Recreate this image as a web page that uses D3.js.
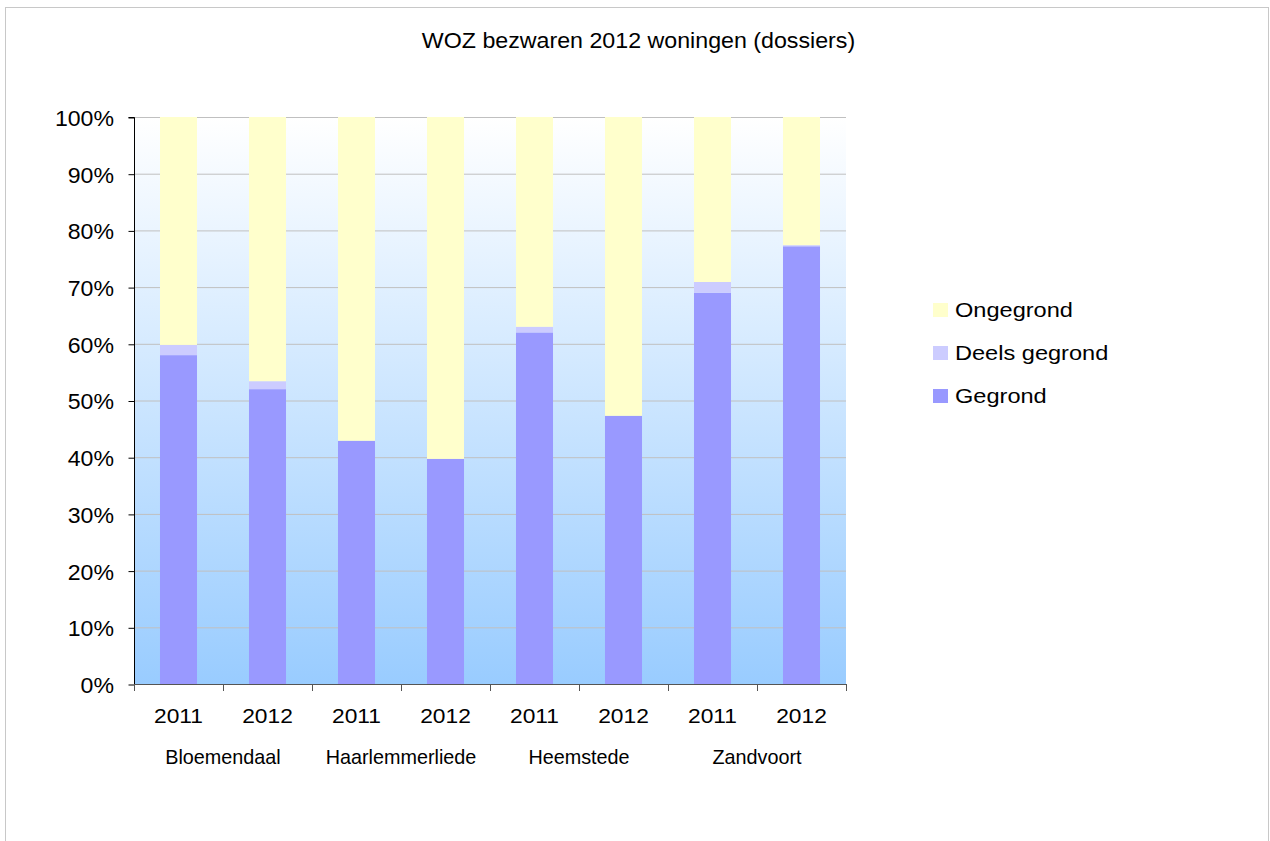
<!DOCTYPE html>
<html>
<head>
<meta charset="utf-8">
<script src="https://cdn.jsdelivr.net/npm/d3@7"></script>
<style>
  html, body { margin: 0; padding: 0; background: #fff; }
  svg { display: block; font-family: "Liberation Sans", Arial, sans-serif; }
</style>
</head>
<body>
<svg id="chart" width="1270" height="841"></svg>
<script>
const title = "WOZ bezwaren 2012 woningen (dossiers)";
const groups = ["Bloemendaal", "Haarlemmerliede", "Heemstede", "Zandvoort"];
const years = ["2011", "2012", "2011", "2012", "2011", "2012", "2011", "2012"];
const gegrond   = [58.0, 52.0, 42.9, 39.7, 62.0, 47.3, 69.0, 77.2];
const deels     = [1.8, 1.4, 0.0, 0.0, 1.0, 0.0, 1.9, 0.2];
const ongegrond = [40.2, 46.6, 57.1, 60.3, 37.0, 52.7, 29.1, 22.6];
const seriesNames = ["Gegrond", "Deels gegrond", "Ongegrond"];
const seriesColors = ["#9999ff", "#ccccff", "#ffffcc"];
const yTicks = [0, 10, 20, 30, 40, 50, 60, 70, 80, 90, 100];

const rows = years.map((yr, i) => ({
  key: i, year: yr, group: groups[Math.floor(i / 2)],
  "Gegrond": gegrond[i], "Deels gegrond": deels[i], "Ongegrond": ongegrond[i]
}));

const svg = d3.select("#chart");
const m = { left: 134, right: 846, top: 117, bottom: 684 };

// helper: text stretched horizontally
function stretchedText(sel, x, y, size, sx, anchor) {
  return sel.append("text")
    .attr("transform", `translate(${x},${y}) scale(${sx},1)`)
    .attr("font-size", size).attr("fill", "#000")
    .attr("text-anchor", anchor || "start");
}

// outer frame
svg.append("rect").attr("x", 5.5).attr("y", 7.5).attr("width", 1263).attr("height", 845)
  .attr("fill", "#fff").attr("stroke", "#c8c8c8").attr("stroke-width", 1);

// background gradient
const defs = svg.append("defs");
const grad = defs.append("linearGradient").attr("id", "bg").attr("x1", 0).attr("y1", 0).attr("x2", 0).attr("y2", 1);
grad.append("stop").attr("offset", "0%").attr("stop-color", "#ffffff");
grad.append("stop").attr("offset", "100%").attr("stop-color", "#99ccff");
svg.append("rect").attr("x", m.left).attr("y", m.top)
  .attr("width", m.right - m.left).attr("height", m.bottom - m.top).attr("fill", "url(#bg)");

const x = d3.scaleBand().domain(rows.map(d => d.key)).range([m.left, m.right])
  .paddingInner(0.584).paddingOuter(0.292);
const y = d3.scaleLinear().domain([0, 100]).range([m.bottom, m.top]);

// gridlines
svg.append("g").selectAll("line").data(yTicks.filter(t => t > 0)).join("line")
  .attr("x1", m.left).attr("x2", m.right)
  .attr("y1", d => y(d) + 0.5).attr("y2", d => y(d) + 0.5)
  .attr("stroke", "#c0c0c0").attr("stroke-width", 1);

// stacked bars
const stack = d3.stack().keys(seriesNames)(rows);
svg.append("g").selectAll("g").data(stack).join("g")
  .attr("fill", (d, i) => seriesColors[i])
  .selectAll("rect").data(d => d).join("rect")
  .attr("x", d => x(d.data.key))
  .attr("width", x.bandwidth())
  .attr("y", d => y(d[1]))
  .attr("height", d => Math.max(0, y(d[0]) - y(d[1])));

// y axis
const yAxis = d3.axisLeft(y).tickValues(yTicks).tickSize(6).tickPadding(0).tickFormat(d => d + "%");
const gy = svg.append("g").attr("transform", `translate(${m.left + 0.5},0)`).call(yAxis);
gy.select(".domain").attr("stroke", "#000").attr("d", `M-6,${m.top + 0.5}H0V${m.bottom + 0.5}`);
gy.selectAll(".tick line").attr("stroke", "#000").attr("transform", "translate(0,0.5)");
gy.selectAll(".tick text")
  .attr("x", 0).attr("dy", "0.36em")
  .attr("transform", "translate(-20.5,0.5) scale(1.05,1)")
  .attr("font-size", 22).attr("fill", "#000")
  .attr("font-family", "'Liberation Sans', Arial, sans-serif");

// x axis baseline and ticks
const step = x.step();
const boundaries = d3.range(rows.length + 1).map(i => m.left + i * step);
svg.append("line").attr("x1", m.left).attr("x2", m.right)
  .attr("y1", m.bottom + 0.5).attr("y2", m.bottom + 0.5).attr("stroke", "#555");
svg.append("g").selectAll("line").data(boundaries).join("line")
  .attr("x1", d => Math.round(d) + 0.5).attr("x2", d => Math.round(d) + 0.5)
  .attr("y1", m.bottom).attr("y2", m.bottom + 7).attr("stroke", "#555");

// year labels
const gYears = svg.append("g");
rows.forEach(d => {
  stretchedText(gYears, x(d.key) + x.bandwidth() / 2, 723, 20, 1.14, "middle").text(d.year);
});

// group labels
const gGroups = svg.append("g");
groups.forEach((g, i) => {
  stretchedText(gGroups, m.left + (2 * i + 1) * step, 764, 20, 0.99, "middle").text(g);
});

// title
stretchedText(svg, 638.5, 48, 21.5, 1.08, "middle").text(title);

// legend (reverse order)
const legendItems = seriesNames.map((n, i) => ({ name: n, color: seriesColors[i] })).reverse();
const lg = svg.append("g");
legendItems.forEach((d, i) => {
  const yy = 303 + i * 43;
  lg.append("rect").attr("x", 933).attr("y", yy).attr("width", 15).attr("height", 14).attr("fill", d.color);
  stretchedText(lg, 955, yy + 13.5, 20.5, 1.15, "start").text(d.name);
});
</script>
</body>
</html>
